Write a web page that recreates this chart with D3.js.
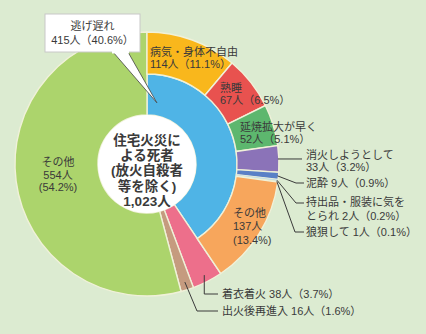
<!DOCTYPE html>
<html><head><meta charset="utf-8">
<script src="https://cdn.jsdelivr.net/npm/d3@7"></script>
<style>
html,body{margin:0;padding:0;background:#dcebd1;}
svg{display:block;}
text{font-family:"Liberation Sans","Noto Sans CJK JP",sans-serif;fill:#3a3a3a;}
</style></head><body>
<svg id="c" width="426" height="334"></svg>
<script>
// main categories (whole ring)
const mainNames = ["逃げ遅れ", "着衣着火", "出火後再進入", "その他"];
const mainValues = [415, 38, 16, 554];
const mainPct = ["40.6%", "3.7%", "1.6%", "54.2%"];
const mainColors = ["#4fb4e6", "#ed6f8b", "#c59b7f", "#acd46c"];
// breakdown of 逃げ遅れ
const subNames = ["病気・身体不自由", "熟睡", "延焼拡大が早く", "消火しようとして", "泥酔", "持出品・服装に気をとられ", "狼狽して", "その他"];
const subValues = [114, 67, 52, 33, 9, 2, 1, 137];
const subPct = ["11.1%", "6.5%", "5.1%", "3.2%", "0.9%", "0.2%", "0.1%", "13.4%"];
const subColors = ["#f9b71c", "#e8524f", "#5db76e", "#8b73b8", "#5a80c6", "#b9d8ea", "#dfe7a2", "#f7a65c"];
const total = "1,023人";

const svg = d3.select("#c");
const cx = 147, cy = 164;
const rHole = 49, rMid = 90, rOut = 132;
const g = svg.append("g").attr("transform", `translate(${cx},${cy})`);
const sep = "#f0f1d9";

const pieMain = d3.pie().sort(null).value(d => d)(mainValues);
const blueEnd = pieMain[0].endAngle;
const pieSub = d3.pie().sort(null).startAngle(0).endAngle(blueEnd).value(d => d)(subValues);

const arcFull = d3.arc().innerRadius(rHole).outerRadius(rOut);
const arcInner = d3.arc().innerRadius(rHole).outerRadius(rMid);
const arcSub = d3.arc().innerRadius(rMid).outerRadius(rOut);

// main slices
g.selectAll("path.main").data(pieMain).join("path")
  .attr("class", "main")
  .attr("d", (d, i) => i === 0 ? arcInner(d) : arcFull(d))
  .attr("fill", (d, i) => mainColors[i])
  .attr("stroke", sep).attr("stroke-width", 1.4);

// sub ring
g.selectAll("path.sub").data(pieSub).join("path")
  .attr("class", "sub")
  .attr("d", arcSub)
  .attr("fill", (d, i) => subColors[i])
  .attr("stroke", sep).attr("stroke-width", (d, i) => (i === 5 || i === 6) ? 0.4 : 1.4);

// center hole
g.append("circle").attr("r", rHole).attr("fill", "#fff");
const centerLines = ["住宅火災に", "よる死者", "(放火自殺者", "等を除く)", total];
centerLines.forEach((s, i) => g.append("text")
  .attr("x", 0).attr("y", -24 + i * 15.3)
  .attr("dy", "0.35em")
  .attr("text-anchor", "middle")
  .attr("font-size", 13.5).attr("font-weight", "bold")
  .text(s));

const pt = (a, r) => [Math.sin(a) * r, -Math.cos(a) * r];
const mid = d => (d.startAngle + d.endAngle) / 2;

function lines(x, y, arr, anchor, fs, lh) {
  arr.forEach((s, i) => g.append("text")
    .attr("text-anchor", anchor || "start").attr("font-size", fs || 11)
    .attr("x", x).attr("y", y + i * (lh || 12.5)).attr("dy", "0.35em").text(s));
}
const lbl = i => `${subValues[i]}人（${subPct[i]}）`;

// inside labels for sub ring
lines(3, -112, [subNames[0], lbl(0)]);
lines(73, -76, [subNames[1], lbl(1)]);
lines(93, -37, [subNames[2], lbl(2)]);
lines(86, 49, [subNames[7], `${subValues[7]}人`, `(${subPct[7]})`], "start", 11, 13.5);
lines(-89, -1.5, [mainNames[3], `${mainValues[3]}人`, `(${mainPct[3]})`], "middle", 11, 12.5);

// leader lines
const lineCol = "#3a3a3a";
function leader(pts) {
  g.append("path").attr("d", d3.line()(pts)).attr("fill", "none")
    .attr("stroke", lineCol).attr("stroke-width", 1);
}
const tx = 159;
// 消火しようとして
{ const p = pt(mid(pieSub[3]), rOut - 1); leader([p, [tx - 4, p[1]]]); lines(tx, -9, [subNames[3], lbl(3)]); }
// 泥酔
{ const p = pt(mid(pieSub[4]), rOut - 1); leader([p, [149, 19], [tx - 2, 19]]); lines(tx, 19, [`${subNames[4]} ${lbl(4)}`]); }
// 持出品
{ const p = pt(mid(pieSub[5]), rOut - 1); leader([p, [149, 39], [tx - 2, 39]]); lines(tx, 38, ["持出品・服装に気を", `とられ ${lbl(5)}`], "start", 11, 14); }
// 狼狽
{ const p = pt(mid(pieSub[6]), rOut - 1); leader([p, [148, 68], [tx - 2, 68]]); lines(tx, 68, [`${subNames[6]} ${lbl(6)}`]); }
// 着衣着火
{ const p = pt(mid(pieMain[1]), 125); leader([p, [p[0], 130], [71, 130]]); lines(75, 130, [`${mainNames[1]} ${mainValues[1]}人（${mainPct[1]}）`]); }
// 出火後再進入
{ const p = pt(mid(pieMain[2]), 124); leader([p, [50, 147], [71, 147]]); lines(75, 147, [`${mainNames[2]} ${mainValues[2]}人（${mainPct[2]}）`]); }

// callout for 逃げ遅れ
const tip = pt(0.16, 62);
g.append("path")
  .attr("d", d3.line()([[-34, -112], tip, [-19, -112]]))
  .attr("fill", "#fff").attr("stroke", "#444").attr("stroke-width", 0.8);
g.append("rect").attr("x", -102).attr("y", -150).attr("width", 95).attr("height", 38)
  .attr("fill", "#fff").attr("stroke", "#c8c8c8").attr("stroke-width", 1);
g.append("rect").attr("x", -35).attr("y", -113.5).attr("width", 17).attr("height", 3).attr("fill", "#fff");
lines(-54.5, -138, [mainNames[0], `${mainValues[0]}人（${mainPct[0]}）`], "middle", 11, 14);
</script>
</body></html>
